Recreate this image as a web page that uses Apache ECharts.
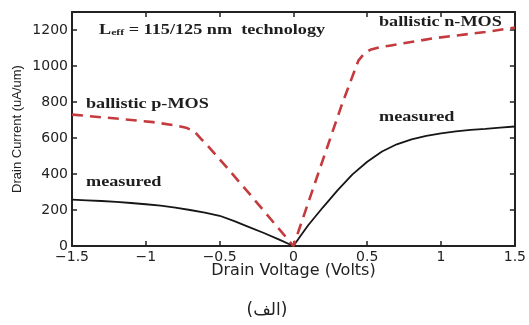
<!DOCTYPE html>
<html>
<head>
<meta charset="utf-8">
<script src="https://cdn.jsdelivr.net/npm/echarts@6/dist/echarts.min.js"></script>
<style>
  html, body { margin: 0; padding: 0; background: #fff; }
  #chart { width: 529px; height: 325px; }
</style>
</head>
<body>
<div id="chart"></div>
<script>
// Drain voltage (V) and drain current (uA/um): measured device
const measuredVolts = [-1.5, -1.4, -1.3, -1.2, -1.1, -1.0, -0.9, -0.8, -0.7, -0.6, -0.5, -0.4, -0.3, -0.2, -0.1, 0,
  0.05, 0.1, 0.2, 0.3, 0.4, 0.5, 0.6, 0.7, 0.8, 0.9, 1.0, 1.1, 1.2, 1.3, 1.4, 1.5];
const measuredCurrent = [258, 254, 250, 245, 239, 232, 224, 213, 200, 186, 168, 138, 105, 72, 37, 0,
  58, 115, 215, 310, 398, 468, 525, 565, 592, 612, 626, 637, 645, 651, 658, 664];

// Ballistic limit (p-MOS for negative bias, n-MOS for positive bias)
const ballisticVolts = [-1.5, -1.2, -0.95, -0.8, -0.72, -0.67, -0.62, -0.6, -0.45, -0.3, -0.15, 0,
  0.1, 0.2, 0.33, 0.44, 0.48, 0.52, 0.58, 0.65, 0.95, 1.3, 1.5];
const ballisticCurrent = [730, 708, 688, 670, 655, 635, 590, 575, 435, 292, 146, 0,
  240, 480, 790, 1030, 1070, 1090, 1103, 1113, 1154, 1189, 1213];

const xTicks = { min: -1.5, max: 1.5, step: 0.5 };
const yTicks = { min: 0, max: 1300, step: 200 };

const pairs = (xs, ys) => xs.map((x, i) => [x, ys[i]]);

const serif = 'bold 14px "Liberation Serif", "DejaVu Serif", serif';
const stretch = 1.3;
const ink = '#1e1e1e';

const frameLine = { show: true, onZero: false, lineStyle: { color: '#222', width: 2 } };
const innerTick = { show: true, inside: true, length: 5, lineStyle: { color: '#222', width: 1.5 } };

const chart = echarts.init(document.getElementById('chart'));
chart.setOption({
  animation: false,
  backgroundColor: '#fff',
  grid: { left: 72, right: 8, top: 12, bottom: 79, containLabel: false },
  xAxis: [
    {
      type: 'value', position: 'bottom',
      min: xTicks.min, max: xTicks.max, interval: xTicks.step,
      axisLine: frameLine, axisTick: innerTick, splitLine: { show: false },
      axisLabel: {
        margin: 4, color: '#222', fontFamily: 'DejaVu Sans', fontSize: 14,
        formatter: v => String(+v.toFixed(2)).replace('-', '\u2212')
      },
      name: 'Drain Voltage (Volts)', nameLocation: 'middle', nameGap: 17,
      nameMoveOverlap: false,
      nameTextStyle: { color: '#222', fontFamily: 'DejaVu Sans', fontSize: 16, verticalAlign: 'top' }
    },
    {
      type: 'value', position: 'top',
      min: xTicks.min, max: xTicks.max, interval: xTicks.step,
      axisLine: frameLine, axisTick: innerTick, splitLine: { show: false },
      axisLabel: { show: false }
    }
  ],
  yAxis: [
    {
      type: 'value', position: 'left',
      min: yTicks.min, max: yTicks.max, interval: yTicks.step,
      axisLine: frameLine, axisTick: innerTick, splitLine: { show: false },
      axisLabel: {
        margin: 4, color: '#222', fontFamily: 'DejaVu Sans', fontSize: 14,
        showMaxLabel: false,
        formatter: v => (v % yTicks.step === 0 ? String(v) : '')
      },
      name: 'Drain Current (uA/um)', nameLocation: 'middle', nameGap: 48,
      nameMoveOverlap: false,
      nameTextStyle: { color: '#222', fontFamily: 'Liberation Sans', fontSize: 13 }
    },
    {
      type: 'value', position: 'right',
      min: yTicks.min, max: yTicks.max, interval: yTicks.step,
      axisLine: frameLine, axisTick: innerTick, splitLine: { show: false },
      axisLabel: { show: false }
    }
  ],
  series: [
    {
      name: 'measured', type: 'line', xAxisIndex: 0, yAxisIndex: 0,
      data: pairs(measuredVolts, measuredCurrent),
      symbol: 'none', smooth: false,
      lineStyle: { color: '#161616', width: 1.8 }
    },
    {
      name: 'ballistic', type: 'line', xAxisIndex: 0, yAxisIndex: 0,
      data: pairs(ballisticVolts, ballisticCurrent),
      symbol: 'none', smooth: false,
      lineStyle: { color: '#c43a3d', width: 2.6, type: [11, 7] }
    }
  ],
  graphic: [
    {
      type: 'text', x: 99, y: 30, scaleX: stretch,
      style: {
        text: '{l|L}{s|eff}{l| = 115/125 nm  technology}',
        verticalAlign: 'middle', align: 'left',
        rich: {
          l: { font: serif, fill: ink },
          s: { font: 'bold 9px "Liberation Serif", serif', fill: ink, verticalAlign: 'bottom', padding: [6, 0, 0, 0] }
        }
      }
    },
    { type: 'text', x: 379, y: 22, scaleX: stretch,
      style: { text: 'ballistic n-MOS', font: serif, fill: ink, verticalAlign: 'middle' } },
    { type: 'text', x: 86, y: 104, scaleX: stretch,
      style: { text: 'ballistic p-MOS', font: serif, fill: ink, verticalAlign: 'middle' } },
    { type: 'text', x: 379, y: 117, scaleX: stretch,
      style: { text: 'measured', font: serif, fill: ink, verticalAlign: 'middle' } },
    { type: 'text', x: 86, y: 182, scaleX: stretch,
      style: { text: 'measured', font: serif, fill: ink, verticalAlign: 'middle' } },
    { type: 'text', x: 267, y: 311,
      style: { text: '(الف)', font: '17px "DejaVu Sans", sans-serif', fill: '#222', align: 'center', verticalAlign: 'middle' } }
  ]
});
</script>
</body>
</html>
